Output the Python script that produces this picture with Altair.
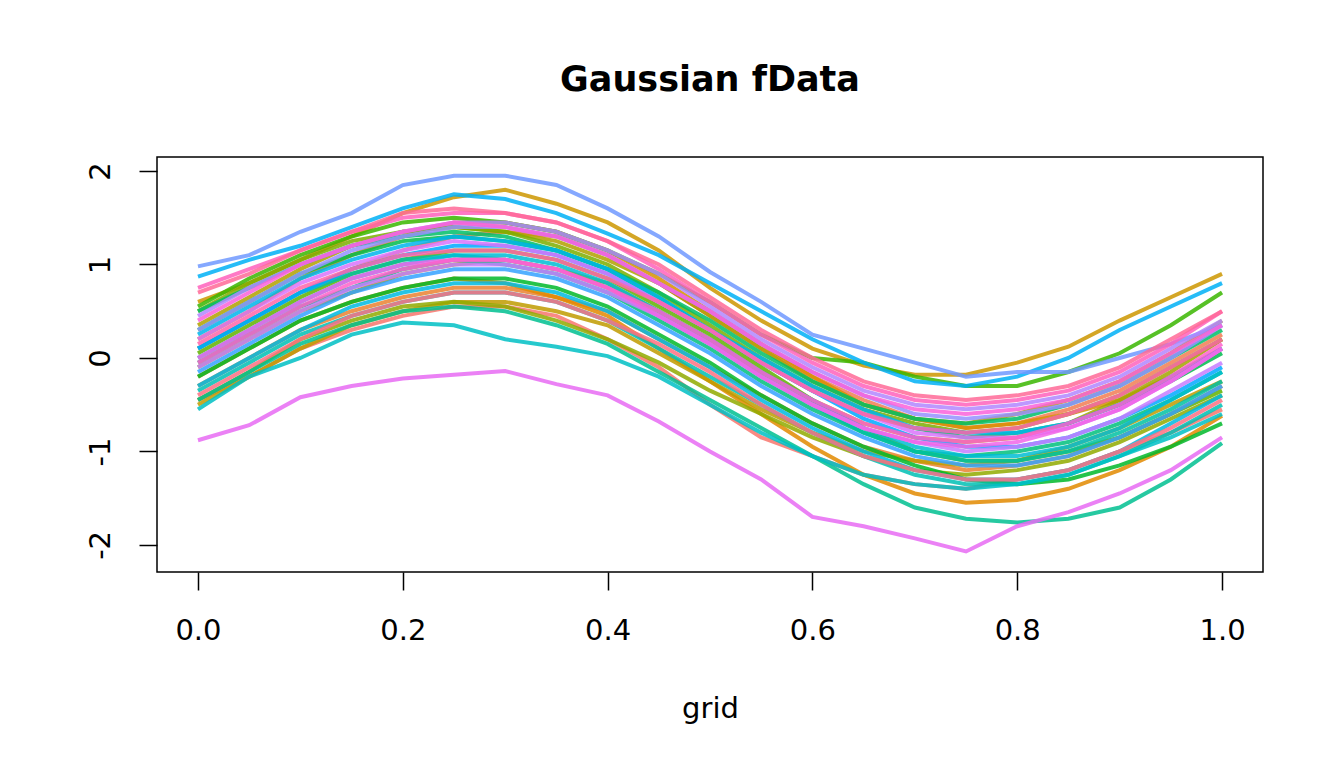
import math
import altair as alt
import pandas as pd

# grid of evaluation points
grid = [0.0, 0.05, 0.1, 0.15, 0.2, 0.25, 0.3, 0.35, 0.4, 0.45, 0.5,
        0.55, 0.6, 0.65, 0.7, 0.75, 0.8, 0.85, 0.9, 0.95, 1.0]

# curve values
f00 = [-0.45, -0.2, 0.1, 0.3, 0.45, 0.55, 0.55, 0.45, 0.2, -0.1, -0.5, -0.85, -1.05, -1.25, -1.35, -1.4, -1.3, -1.2, -1.0, -0.8, -0.55]
f01 = [0.1, 0.4, 0.7, 0.95, 1.15, 1.3, 1.35, 1.3, 1.1, 0.8, 0.45, 0.1, -0.2, -0.45, -0.65, -0.75, -0.7, -0.55, -0.35, -0.05, 0.25]
f02 = [-0.3, 0.0, 0.3, 0.5, 0.65, 0.75, 0.75, 0.65, 0.5, 0.2, -0.1, -0.4, -0.7, -0.95, -1.1, -1.2, -1.15, -1.05, -0.85, -0.6, -0.3]
f03 = [-0.2, 0.1, 0.4, 0.6, 0.75, 0.85, 0.8, 0.65, 0.45, 0.1, -0.25, -0.6, -0.95, -1.25, -1.45, -1.55, -1.52, -1.4, -1.2, -0.95, -0.62]
f04 = [0.2, 0.5, 0.85, 1.1, 1.3, 1.45, 1.45, 1.35, 1.15, 0.85, 0.5, 0.15, -0.2, -0.5, -0.65, -0.75, -0.7, -0.6, -0.45, -0.2, 0.1]
f05 = [0.6, 0.8, 1.05, 1.3, 1.55, 1.72, 1.8, 1.65, 1.45, 1.15, 0.75, 0.4, 0.1, -0.08, -0.18, -0.18, -0.05, 0.12, 0.4, 0.65, 0.9]
f06 = [-0.5, -0.2, 0.1, 0.35, 0.5, 0.6, 0.6, 0.5, 0.35, 0.05, -0.25, -0.55, -0.8, -1.0, -1.1, -1.15, -1.1, -0.95, -0.75, -0.5, -0.25]
f07 = [0.35, 0.65, 0.95, 1.2, 1.35, 1.4, 1.35, 1.25, 1.05, 0.8, 0.45, 0.1, -0.25, -0.5, -0.65, -0.7, -0.6, -0.45, -0.25, 0.05, 0.4]
f08 = [-0.1, 0.2, 0.5, 0.7, 0.9, 1.0, 1.05, 0.95, 0.8, 0.5, 0.2, -0.15, -0.45, -0.7, -0.85, -0.9, -0.85, -0.7, -0.45, -0.15, 0.2]
f09 = [-0.45, -0.15, 0.2, 0.4, 0.55, 0.6, 0.55, 0.4, 0.2, -0.05, -0.35, -0.6, -0.85, -1.05, -1.2, -1.25, -1.2, -1.1, -0.9, -0.65, -0.4]
f10 = [0.5, 0.8, 1.05, 1.25, 1.35, 1.4, 1.35, 1.2, 1.0, 0.7, 0.35, 0.0, -0.3, -0.55, -0.7, -0.8, -0.75, -0.6, -0.4, -0.1, 0.2]
f11 = [0.05, 0.35, 0.65, 0.9, 1.05, 1.15, 1.15, 1.05, 0.85, 0.55, 0.25, -0.1, -0.45, -0.75, -1.0, -1.1, -1.1, -1.0, -0.85, -0.6, -0.35]
f12 = [0.55, 0.85, 1.1, 1.3, 1.45, 1.5, 1.45, 1.35, 1.15, 0.9, 0.6, 0.25, 0.0, -0.05, -0.2, -0.3, -0.3, -0.15, 0.05, 0.35, 0.7]
f13 = [-0.2, 0.1, 0.4, 0.6, 0.75, 0.85, 0.85, 0.75, 0.55, 0.25, -0.05, -0.4, -0.7, -0.95, -1.15, -1.3, -1.35, -1.3, -1.15, -0.95, -0.7]
f14 = [0.3, 0.6, 0.9, 1.1, 1.25, 1.3, 1.25, 1.15, 0.95, 0.65, 0.3, -0.05, -0.35, -0.6, -0.75, -0.85, -0.8, -0.7, -0.5, -0.25, 0.05]
f15 = [0.5, 0.75, 1.0, 1.2, 1.3, 1.35, 1.3, 1.15, 0.95, 0.7, 0.4, 0.05, -0.25, -0.5, -0.65, -0.7, -0.65, -0.5, -0.3, 0.0, 0.3]
f16 = [-0.05, 0.25, 0.55, 0.75, 0.95, 1.05, 1.0, 0.9, 0.7, 0.4, 0.1, -0.25, -0.55, -0.8, -1.0, -1.05, -1.0, -0.9, -0.7, -0.45, -0.15]
f17 = [-0.45, -0.15, 0.15, 0.35, 0.5, 0.55, 0.5, 0.35, 0.15, -0.15, -0.45, -0.75, -1.05, -1.35, -1.6, -1.72, -1.76, -1.72, -1.6, -1.3, -0.91]
f18 = [0.1, 0.4, 0.7, 0.9, 1.05, 1.1, 1.05, 0.95, 0.75, 0.45, 0.15, -0.2, -0.5, -0.8, -1.0, -1.1, -1.1, -1.0, -0.8, -0.55, -0.25]
f19 = [-0.35, -0.05, 0.25, 0.45, 0.6, 0.7, 0.7, 0.6, 0.4, 0.1, -0.2, -0.5, -0.8, -1.05, -1.25, -1.35, -1.35, -1.25, -1.05, -0.8, -0.5]
f20 = [-0.55, -0.2, 0.0, 0.25, 0.38, 0.35, 0.2, 0.12, 0.02, -0.2, -0.5, -0.8, -1.05, -1.25, -1.35, -1.4, -1.35, -1.25, -1.05, -0.85, -0.6]
f21 = [0.0, 0.3, 0.6, 0.85, 1.0, 1.1, 1.1, 1.0, 0.8, 0.5, 0.2, -0.15, -0.45, -0.75, -0.95, -1.05, -1.05, -0.95, -0.75, -0.45, -0.15]
f22 = [-0.3, 0.0, 0.3, 0.55, 0.7, 0.8, 0.8, 0.7, 0.5, 0.2, -0.1, -0.45, -0.75, -1.0, -1.2, -1.3, -1.3, -1.2, -1.0, -0.7, -0.4]
f23 = [0.25, 0.55, 0.85, 1.05, 1.2, 1.3, 1.25, 1.15, 0.95, 0.65, 0.3, 0.0, -0.3, -0.55, -0.75, -0.8, -0.8, -0.7, -0.5, -0.2, 0.1]
f24 = [0.87, 1.05, 1.2, 1.4, 1.6, 1.75, 1.7, 1.55, 1.33, 1.1, 0.8, 0.5, 0.2, -0.05, -0.25, -0.3, -0.2, 0.0, 0.3, 0.55, 0.8]
f25 = [0.1, 0.4, 0.7, 0.95, 1.1, 1.2, 1.2, 1.1, 0.9, 0.6, 0.3, -0.05, -0.35, -0.65, -0.85, -0.95, -0.95, -0.85, -0.65, -0.4, -0.1]
f26 = [-0.15, 0.15, 0.45, 0.7, 0.85, 0.95, 0.95, 0.85, 0.65, 0.35, 0.05, -0.3, -0.6, -0.85, -1.05, -1.15, -1.15, -1.05, -0.85, -0.6, -0.3]
f27 = [0.98, 1.1, 1.35, 1.55, 1.85, 1.95, 1.95, 1.85, 1.6, 1.3, 0.92, 0.6, 0.25, 0.1, -0.05, -0.2, -0.15, -0.15, 0.0, 0.15, 0.35]
f28 = [0.3, 0.6, 0.9, 1.15, 1.3, 1.4, 1.4, 1.3, 1.1, 0.8, 0.5, 0.15, -0.15, -0.4, -0.6, -0.65, -0.6, -0.5, -0.3, 0.0, 0.35]
f29 = [0.45, 0.75, 1.0, 1.2, 1.35, 1.45, 1.45, 1.35, 1.15, 0.9, 0.55, 0.2, -0.1, -0.35, -0.5, -0.55, -0.5, -0.4, -0.2, 0.1, 0.4]
f30 = [-0.1, 0.2, 0.5, 0.75, 0.9, 1.0, 1.0, 0.9, 0.7, 0.45, 0.15, -0.2, -0.5, -0.75, -0.9, -1.0, -0.95, -0.85, -0.65, -0.35, -0.05]
f31 = [0.2, 0.5, 0.8, 1.0, 1.15, 1.25, 1.2, 1.1, 0.9, 0.6, 0.3, -0.05, -0.35, -0.6, -0.8, -0.85, -0.85, -0.75, -0.55, -0.25, 0.1]
f32 = [-0.88, -0.72, -0.42, -0.3, -0.22, -0.18, -0.14, -0.28, -0.4, -0.68, -1.0, -1.3, -1.7, -1.8, -1.93, -2.07, -1.8, -1.65, -1.45, -1.2, -0.85]
f33 = [0.0, 0.3, 0.6, 0.85, 1.0, 1.05, 1.05, 0.95, 0.75, 0.45, 0.15, -0.2, -0.5, -0.75, -0.9, -0.95, -0.9, -0.75, -0.55, -0.25, 0.1]
f34 = [0.4, 0.7, 1.0, 1.2, 1.35, 1.45, 1.4, 1.3, 1.1, 0.8, 0.5, 0.15, -0.15, -0.4, -0.55, -0.6, -0.55, -0.45, -0.25, 0.05, 0.35]
f35 = [-0.05, 0.25, 0.55, 0.8, 0.95, 1.05, 1.05, 0.95, 0.75, 0.5, 0.2, -0.15, -0.45, -0.7, -0.85, -0.9, -0.85, -0.7, -0.5, -0.2, 0.15]
f36 = [0.75, 0.95, 1.15, 1.35, 1.5, 1.55, 1.55, 1.45, 1.25, 0.95, 0.6, 0.25, -0.05, -0.3, -0.45, -0.5, -0.45, -0.35, -0.15, 0.15, 0.5]
f37 = [0.15, 0.45, 0.75, 0.95, 1.1, 1.15, 1.15, 1.05, 0.85, 0.6, 0.3, -0.05, -0.35, -0.6, -0.75, -0.8, -0.75, -0.6, -0.4, -0.1, 0.2]
f38 = [0.7, 0.9, 1.15, 1.35, 1.55, 1.6, 1.55, 1.45, 1.25, 1.0, 0.65, 0.3, 0.0, -0.25, -0.4, -0.45, -0.4, -0.3, -0.1, 0.2, 0.5]
f39 = [-0.4, -0.1, 0.2, 0.45, 0.6, 0.7, 0.7, 0.6, 0.4, 0.15, -0.15, -0.5, -0.8, -1.05, -1.2, -1.3, -1.3, -1.2, -1.0, -0.75, -0.45]

curves = [f00, f01, f02, f03, f04, f05, f06, f07, f08, f09,
          f10, f11, f12, f13, f14, f15, f16, f17, f18, f19,
          f20, f21, f22, f23, f24, f25, f26, f27, f28, f29,
          f30, f31, f32, f33, f34, f35, f36, f37, f38, f39]

x_ticks = [0.0, 0.2, 0.4, 0.6, 0.8, 1.0]
y_ticks = [-2, -1, 0, 1, 2]


def hcl_hex(h, c=100.0, l=65.0):
    hr = math.radians(h)
    u = c * math.cos(hr)
    v = c * math.sin(hr)
    Xn, Yn, Zn = 95.047, 100.0, 108.883
    den = Xn + 15 * Yn + 3 * Zn
    un, vn = 4 * Xn / den, 9 * Yn / den
    Y = Yn * ((l + 16) / 116) ** 3
    up = u / (13 * l) + un
    vp = v / (13 * l) + vn
    X = Y * 9 * up / (4 * vp)
    Z = Y * (12 - 3 * up - 20 * vp) / (4 * vp)
    x, y, z = X / 100, Y / 100, Z / 100
    rgb = [3.2404542 * x - 1.5371385 * y - 0.4985314 * z,
           -0.9692660 * x + 1.8760108 * y + 0.0415560 * z,
           0.0556434 * x - 0.2040259 * y + 1.0572252 * z]
    out = []
    for ch in rgb:
        ch = 1.055 * ch ** (1 / 2.4) - 0.055 if ch > 0.0031308 else 12.92 * ch
        out.append(int(round(min(max(ch, 0), 1) * 255)))
    return "#%02x%02x%02x" % tuple(out)


n = len(curves)
ids = ["c%02d" % i for i in range(n)]
colors = [hcl_hex(15 + 360.0 * i / n) for i in range(n)]

rows = []
for cid, vals in zip(ids, curves):
    for gx, gy in zip(grid, vals):
        rows.append({"id": cid, "grid": gx, "value": gy})
df = pd.DataFrame(rows)

chart = alt.Chart(df).mark_line(strokeWidth=4, opacity=0.85).encode(
    x=alt.X("grid:Q",
            scale=alt.Scale(domain=[-0.04, 1.04], nice=False, zero=False),
            axis=alt.Axis(values=x_ticks, format=".1f", title="grid",
                          tickSize=18, tickWidth=1.5, tickColor="black",
                          labelFontSize=29, labelPadding=26, labelColor="black",
                          labelFont="DejaVu Sans", labelFlush=False,
                          titleFont="DejaVu Sans", titleFontSize=29,
                          titleFontWeight="normal", titlePadding=49,
                          titleColor="black", domain=False, grid=False)),
    y=alt.Y("value:Q",
            scale=alt.Scale(domain=[-2.29, 2.15], nice=False, zero=False),
            axis=alt.Axis(values=y_ticks, title="",
                          labelExpr="toString(datum.value)",
                          tickSize=18, tickWidth=1.5, tickColor="black",
                          labelFontSize=29, labelPadding=30, labelColor="black",
                          labelFont="DejaVu Sans", labelAngle=270,
                          labelAlign="center", labelBaseline="alphabetic",
                          labelFlush=False, domain=False, grid=False)),
    color=alt.Color("id:N", scale=alt.Scale(domain=ids, range=colors), legend=None),
    detail="id:N",
).properties(
    width=1106,
    height=415,
    title=alt.TitleParams("Gaussian fData", font="DejaVu Sans", fontSize=35,
                          fontWeight="bold", color="black", anchor="middle",
                          frame="group", baseline="alphabetic", offset=31),
    autosize=alt.AutoSizeParams(type="none"),
    padding={"left": 157, "top": 157, "right": 81, "bottom": 196},
).configure(
    background="white"
).configure_view(
    stroke="black", strokeWidth=1.5
)

chart.save("out.html", embed_options={"renderer": "svg", "actions": False})
